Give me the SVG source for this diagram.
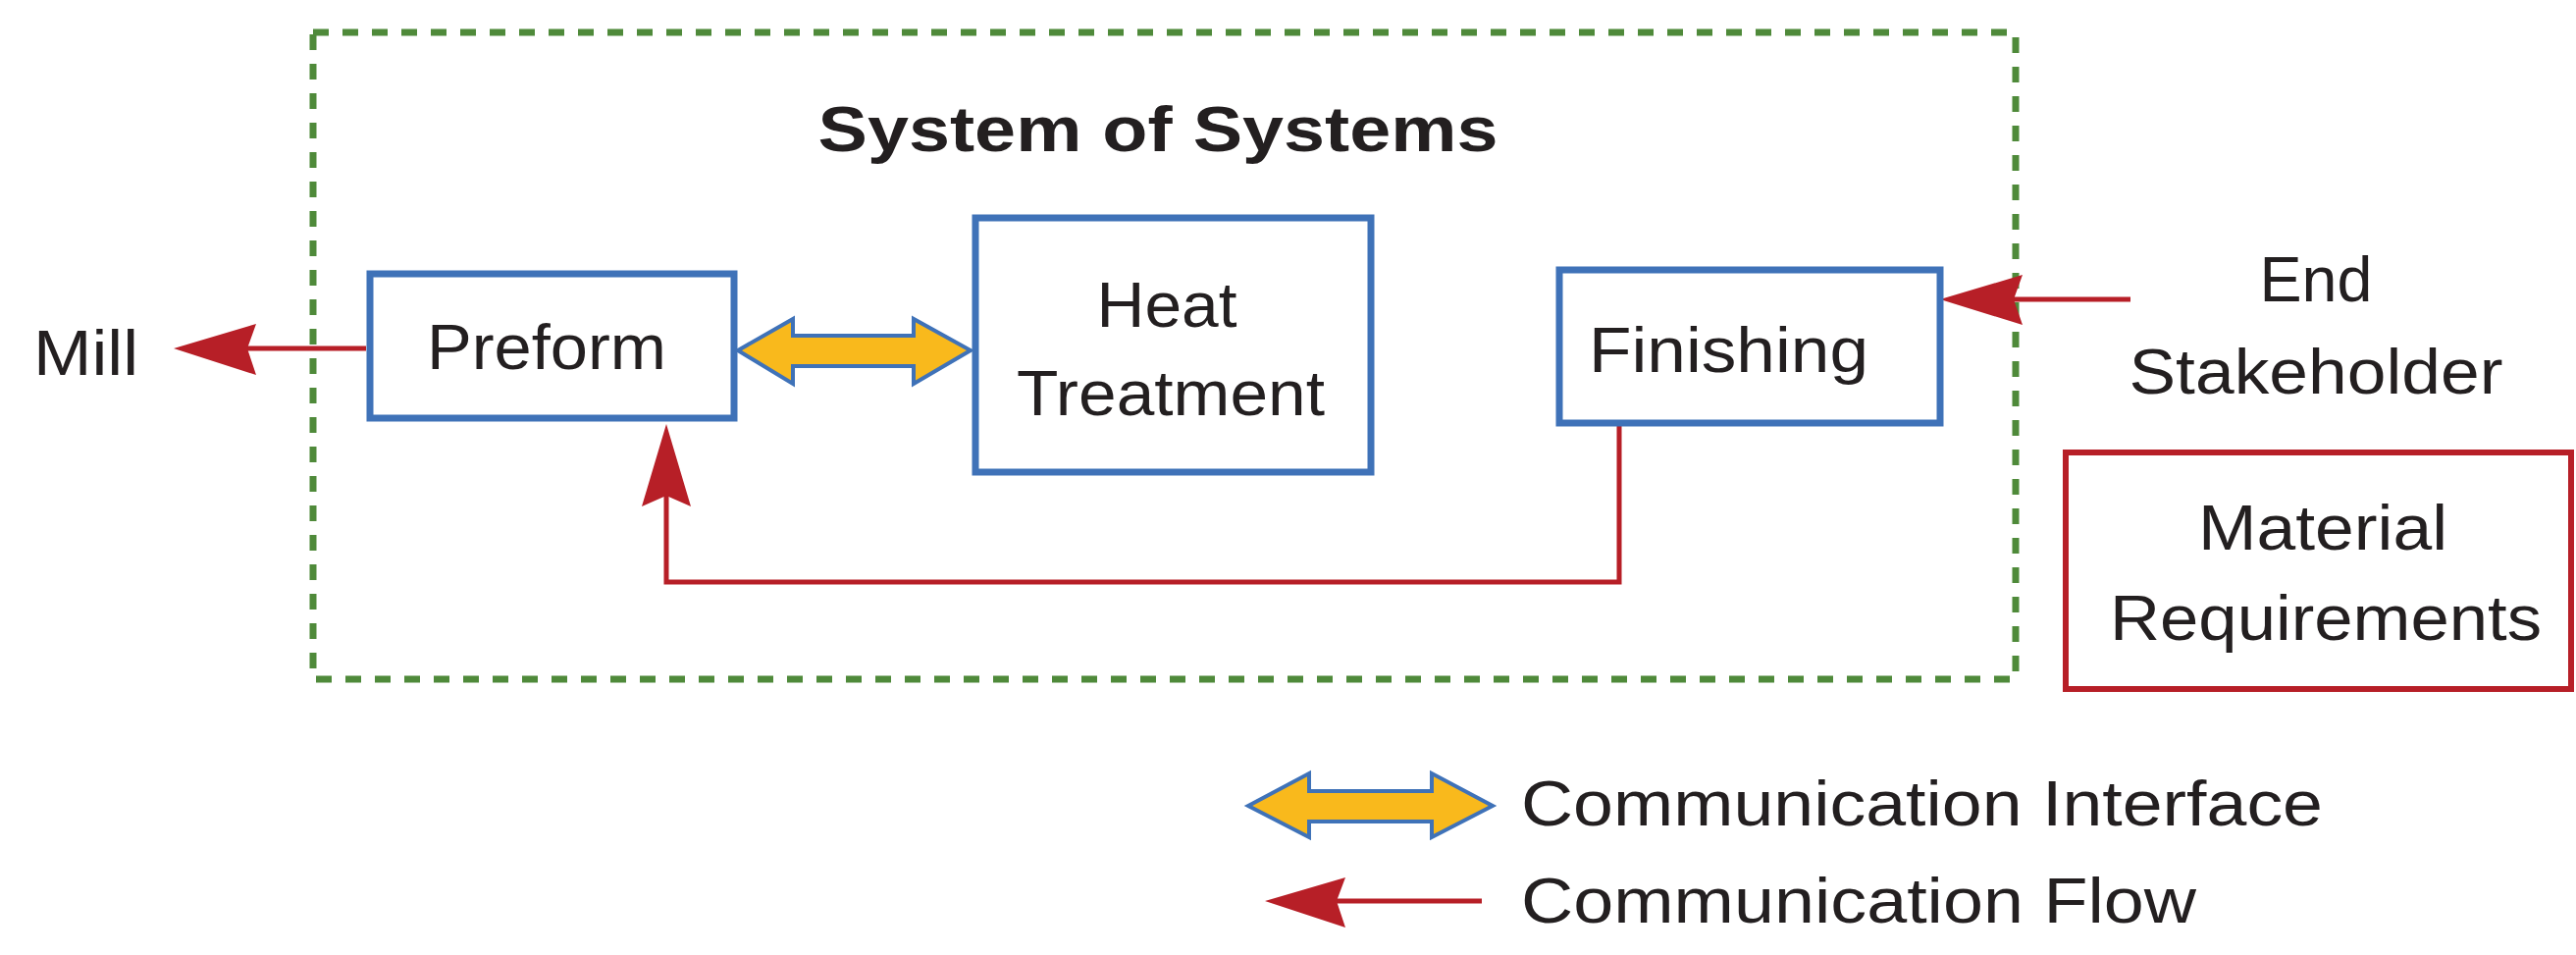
<svg xmlns="http://www.w3.org/2000/svg" width="2625" height="973" viewBox="0 0 2625 973">
<style>
text{font-family:"Liberation Sans",Arial,sans-serif;font-size:64px;fill:#231f20}
.box{fill:#fff;stroke:#3f72b8;stroke-width:7}
.flow{fill:none;stroke:#b71f27;stroke-width:5}
.head{fill:#b71f27}
.dbl{fill:#f9b91c;stroke:#3f72b8;stroke-width:4}
</style>
<rect width="2625" height="973" fill="#fff"/>
<rect x="319" y="33" width="1735" height="659" fill="none" stroke="#4f8a3a" stroke-width="7" stroke-dasharray="16 14"/>
<text x="1180" y="154" text-anchor="middle" font-weight="bold" textLength="693" lengthAdjust="spacingAndGlyphs">System of Systems</text>
<g id="connectors">
<line class="flow" x1="373" y1="355" x2="240" y2="355"/>
<path class="head" d="M177,355 L261,330 L252,355 L261,382 Z"/>
<polyline class="flow" points="1650,431 1650,593 679,593 679,500"/>
<path class="head" d="M679,432 L704,516 L679,505 L654,516 Z"/>
<line class="flow" x1="2171" y1="305" x2="2040" y2="305"/>
<path class="head" d="M1977,305 L2061,280 L2052,305 L2061,331 Z"/>
<path class="dbl" d="M752,357 L808,325 L808,342 L931,342 L931,325 L989,357 L931,391 L931,373 L808,373 L808,391 Z"/>
</g>
<g id="preform"><rect class="box" x="377" y="279" width="371" height="147"/>
<text x="435" y="376" textLength="244" lengthAdjust="spacingAndGlyphs">Preform</text></g>
<g id="heat"><rect class="box" x="994" y="222" width="403" height="259"/>
<text x="1189" y="333" text-anchor="middle" textLength="143" lengthAdjust="spacingAndGlyphs">Heat</text>
<text x="1193" y="423" text-anchor="middle" textLength="314" lengthAdjust="spacingAndGlyphs">Treatment</text></g>
<g id="finishing"><rect class="box" x="1589" y="275" width="388" height="156"/>
<text x="1619" y="379" textLength="285" lengthAdjust="spacingAndGlyphs">Finishing</text></g>
<g id="mill"><text x="34" y="382" textLength="107" lengthAdjust="spacingAndGlyphs">Mill</text></g>
<g id="end"><text x="2360" y="307" text-anchor="middle" textLength="115" lengthAdjust="spacingAndGlyphs">End</text>
<text x="2360" y="401" text-anchor="middle" textLength="381" lengthAdjust="spacingAndGlyphs">Stakeholder</text></g>
<g id="material"><rect x="2105" y="461" width="515" height="241" fill="#fff" stroke="#b71f27" stroke-width="6"/>
<text x="2367" y="560" text-anchor="middle" textLength="254" lengthAdjust="spacingAndGlyphs">Material</text>
<text x="2370" y="652" text-anchor="middle" textLength="440" lengthAdjust="spacingAndGlyphs">Requirements</text></g>
<g id="legend">
<path class="dbl" d="M1272,821 L1334,788 L1334,806 L1459,806 L1459,788 L1521,821 L1459,853 L1459,837 L1334,837 L1334,853 Z"/>
<text x="1550" y="841" textLength="817" lengthAdjust="spacingAndGlyphs">Communication Interface</text>
<line class="flow" x1="1510" y1="918" x2="1350" y2="918"/>
<path class="head" d="M1289,918 L1371,894 L1362,918 L1371,945 Z"/>
<text x="1550" y="940" textLength="688" lengthAdjust="spacingAndGlyphs">Communication Flow</text>
</g>
</svg>
